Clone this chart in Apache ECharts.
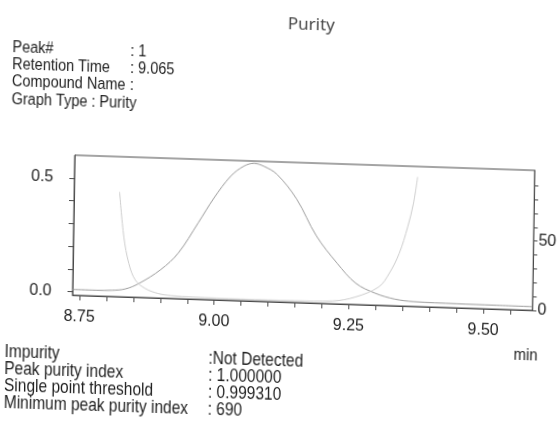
<!DOCTYPE html>
<html>
<head>
<meta charset="utf-8">
<title>Purity</title>
<script src="https://cdn.jsdelivr.net/npm/echarts@6/dist/echarts.min.js"></script>
<style>
  html, body { margin: 0; padding: 0; background: #fff; overflow: hidden; }
  /* printed report sheet sits slightly skewed on the page */
  #chart { width: 560px; height: 421px; transform-origin: 280px 210px; transform: matrix(1, 0.033, -0.016, 1, 0, 0); }
</style>
</head>
<body>
<div id="chart"></div>
<script>
// ---- time axis (min) ----
const timeRange = [8.737, 9.591];
const xTickValues = [8.75, 8.80, 8.85, 8.90, 8.95, 9.00, 9.05, 9.10, 9.15, 9.20, 9.25, 9.30, 9.35, 9.40, 9.45, 9.50, 9.55];
const xLabelValues = [8.75, 9.00, 9.25, 9.50];

// ---- left axis: absorbance ----
const absRange = [-0.015, 0.6];
const absTickValues = [0.0, 0.1, 0.2, 0.3, 0.4, 0.5];
const absLabelValues = [0.0, 0.5];

// ---- right axis: purity curve ----
const purityRange = [0, 101];
const purityTickValues = [0, 10, 20, 30, 40, 50, 60, 70, 80, 90];
const purityLabelValues = [0, 50];

// ---- chromatogram ----
const chromTime = [8.737, 8.78, 8.81, 8.835, 8.86, 8.90, 8.932, 8.968, 8.997, 9.027, 9.051, 9.070, 9.089, 9.113, 9.15, 9.188, 9.227, 9.262, 9.299, 9.336, 9.37, 9.45, 9.52, 9.591];
const chromAbs  = [0.010, 0.010, 0.012, 0.020, 0.046, 0.110, 0.185, 0.320, 0.433, 0.530, 0.576, 0.590, 0.578, 0.545, 0.440, 0.280, 0.164, 0.079, 0.037, 0.014, 0.006, 0.003, 0.002, 0.001];

// ---- purity curve ----
const purityTime = [8.8214, 8.8306, 8.8407, 8.8533, 8.872, 8.896, 8.92, 8.96, 9.05, 9.15, 9.22, 9.262, 9.305, 9.324, 9.342, 9.357, 9.367, 9.374];
const purityVal  = [75.6, 43.2, 24.1, 12.3, 6.5, 3.2, 2.0, 1.5, 1.2, 1.3, 2.0, 5.4, 13.2, 23.1, 37.8, 57.1, 74.2, 93.4];

// ---- report text ----
const titleText = 'Purity';
const headerLabels = ['Peak#', 'Retention Time', 'Compound Name', 'Graph Type : Purity'];
const headerValues = [': 1', ': 9.065', ':', ''];
const resultLabels = ['Impurity', 'Peak purity index', 'Single point threshold', 'Minimum peak purity index'];
const resultValues = [':Not Detected', ': 1.000000', ': 0.999310', ': 690'];
const timeUnit = 'min';

const FONT = '"Liberation Sans", Arial, sans-serif';
const INK = '#1e1e1e';
const AXIS = '#4a4a4a';

function pairs(xs, ys) { return xs.map((x, i) => [x, ys[i]]); }

// printer font is taller than it is wide, so text is stretched vertically
function label(text, x, y, size, tall) {
  return { type: 'text', x: x, y: y, scaleY: tall, silent: true,
    style: { text: text, font: size + 'px ' + FONT, fill: INK, verticalAlign: 'middle', align: 'left' } };
}

function textBlock(labels, values, x0, x1, y0, step, size, tall) {
  const out = [];
  labels.forEach((t, i) => {
    out.push(label(t, x0, y0 + i * step, size, tall));
    if (values[i]) out.push(label(values[i], x1, y0 + i * step, size, tall));
  });
  return out;
}

const chart = echarts.init(document.getElementById('chart'), null, { renderer: 'canvas' });

chart.setOption({
  animation: false,
  backgroundColor: '#ffffff',
  title: {
    text: titleText, left: 280, top: 11,
    textStyle: { fontFamily: '"Noto Sans", "DejaVu Sans", sans-serif', fontSize: 17, fontWeight: 'normal', color: '#444' }
  },
  grid: { left: 74, right: 20, top: 162, bottom: 119, show: true, borderColor: AXIS, borderWidth: 1, containLabel: false },
  xAxis: {
    type: 'value', min: timeRange[0], max: timeRange[1],
    axisLine: { show: true, onZero: false, lineStyle: { color: AXIS, width: 1 } },
    axisTick: { show: true, customValues: xTickValues, length: 5, lineStyle: { color: AXIS } },
    axisLabel: { customValues: xLabelValues, formatter: v => v.toFixed(2), margin: 14,
      fontFamily: FONT, fontSize: 16, color: INK },
    splitLine: { show: false }
  },
  yAxis: [
    {
      type: 'value', position: 'left', min: absRange[0], max: absRange[1],
      axisLine: { show: true, onZero: false, lineStyle: { color: AXIS, width: 1 } },
      axisTick: { show: true, customValues: absTickValues, length: 5, lineStyle: { color: AXIS } },
      axisLabel: { customValues: absLabelValues, formatter: v => v.toFixed(1), margin: 21,
        fontFamily: FONT, fontSize: 16, color: INK },
      splitLine: { show: false }
    },
    {
      type: 'value', position: 'right', min: purityRange[0], max: purityRange[1],
      axisLine: { show: true, onZero: false, lineStyle: { color: AXIS, width: 1 } },
      axisTick: { show: true, customValues: purityTickValues, length: 4, lineStyle: { color: AXIS } },
      axisLabel: { customValues: purityLabelValues, formatter: v => String(v), margin: 5,
        fontFamily: FONT, fontSize: 16, color: INK },
      splitLine: { show: false }
    }
  ],
  series: [
    {
      name: 'Chromatogram', type: 'line', yAxisIndex: 0, data: pairs(chromTime, chromAbs),
      smooth: 0.35, showSymbol: false, silent: true,
      lineStyle: { color: '#9c9c9c', width: 1 }
    },
    {
      name: 'Purity curve', type: 'line', yAxisIndex: 1, data: pairs(purityTime, purityVal),
      smooth: 0.35, showSymbol: false, silent: true,
      lineStyle: { color: '#cdcdcd', width: 1 }
    }
  ],
  graphic: [
    ...textBlock(headerLabels, headerValues, 10, 128, 56, 17.3, 14.5, 1.2),
    ...textBlock(resultLabels, resultValues, 7, 211, 361, 17, 15.5, 1.15),
    label(timeUnit, 516, 347, 15, 1.15)
  ]
});
</script>
</body>
</html>
